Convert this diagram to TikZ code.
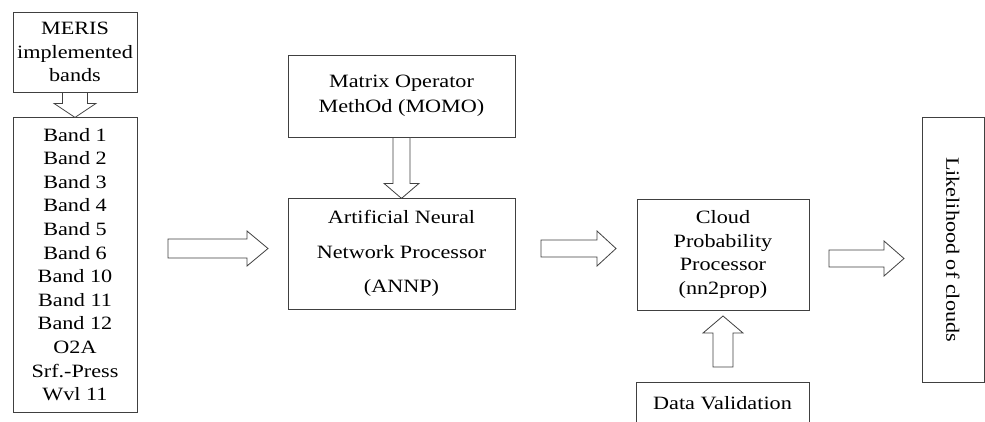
\documentclass[tikz,border=0pt]{standalone}
\usepackage{fontspec}
\setmainfont{Liberation Serif}[FakeStretch=1.18]
\usetikzlibrary{calc}

\tikzset{
  box/.style={draw=black!75, line width=0.8pt, align=center, inner sep=0pt,
    font=\fontsize{18.8}{23.6}\selectfont},
  hollow/.style={draw=black!75, line width=0.8pt, fill=white, line join=miter}
}
% block arrow: tail, angle, length, half shaft, half head, head length
\newcommand{\blockarrow}[6]{%
  \draw[hollow, shift={#1}, rotate=#2] (0,-#4) -- ({#3-#6},-#4) -- ({#3-#6},-#5)
    -- (#3,0) -- ({#3-#6},#5) -- ({#3-#6},#4) -- (0,#4) -- cycle;}

\begin{document}
\begin{tikzpicture}[x=1pt,y=1pt]
\useasboundingbox (0,0) rectangle (985,-421);
\clip (0,0) rectangle (985,-421);
% boxes
\node[box, minimum width=124pt, minimum height=80pt] (meris) at (75,-52) {MERIS\\implemented\\bands};
\node[box, minimum width=124pt, minimum height=295pt] (bands) at (75,-264.5)
  {Band 1\\Band 2\\Band 3\\Band 4\\Band 5\\Band 6\\Band 10\\Band 11\\Band 12\\O2A\\Srf.-Press\\Wvl 11};
\node[box, minimum width=227pt, minimum height=82pt, font=\fontsize{18.8}{25}\selectfont] (momo) at (401.5,-96) {Matrix Operator\\MethOd (MOMO)};
\node[box, minimum width=227pt, minimum height=111pt, font=\fontsize{18.8}{34.5}\selectfont] (annp) at (401.5,-253.5) {Artificial Neural\\Network Processor\\(ANNP)};
\node[box, minimum width=172pt, minimum height=111pt] (cloud) at (723,-254.5) {Cloud\\Probability\\Processor\\(nn2prop)};
\node[box, minimum width=173pt, minimum height=42pt] (valid) at (722.5,-403) {Data Validation};
\node[box, rotate=-90, minimum width=265pt, minimum height=62pt] (likely) at (953,-249.5) {Likelihood of clouds};
% free ends of the side arrows
\coordinate (in1) at (168,-248.5);
\coordinate (in2) at (541,-248.5);
\coordinate (in3) at (829,-258.5);
\coordinate (in4) at (723,-367);
% arrows
\blockarrow{(meris.south)}{-90}{25}{12.5}{21}{14}
\blockarrow{(momo.south)}{-90}{61}{8.5}{17.5}{15}
\blockarrow{(in1)}{0}{100}{9.5}{17.5}{21}
\blockarrow{(in2)}{0}{75}{8.5}{17.5}{19}
\blockarrow{(in3)}{0}{75}{8.5}{17.5}{20}
\blockarrow{(in4)}{90}{51}{10}{20}{17}
\end{tikzpicture}
\end{document}
